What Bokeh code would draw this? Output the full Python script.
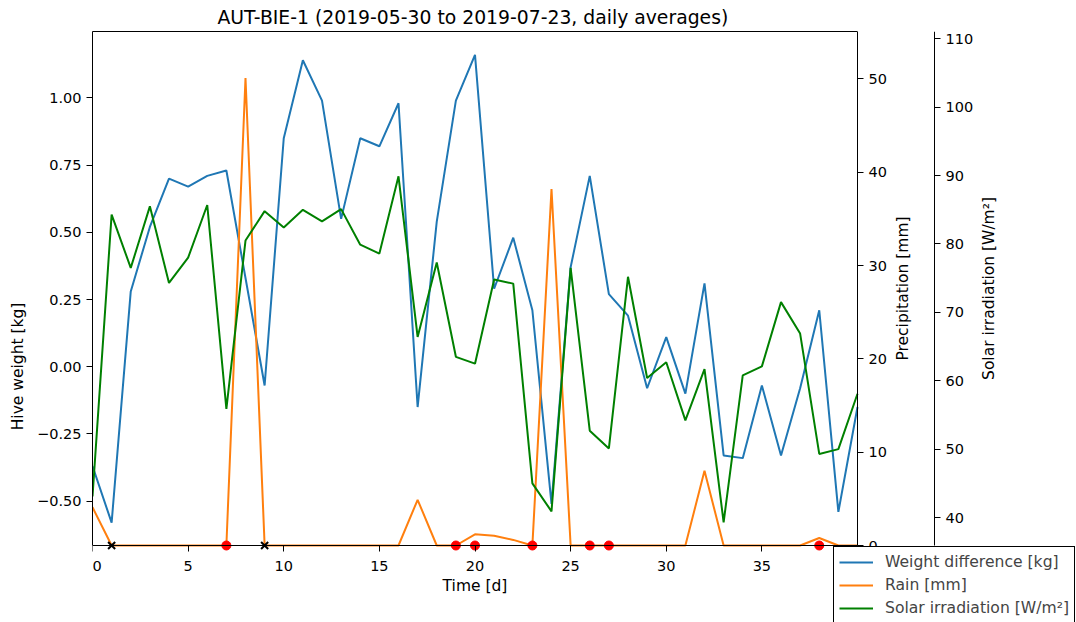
import math
from bokeh.plotting import figure
from bokeh.models import (Range1d, LinearAxis, FixedTicker, CustomJSTickFormatter,
                          Legend, LegendItem, Label)
from bokeh.embed import file_html
from bokeh.resources import INLINE

# ---------------- data ----------------
days = list(range(41))
weight_kg = [-0.37, -0.58, 0.28, 0.52, 0.70, 0.67, 0.71, 0.73, 0.33, -0.07,
             0.85, 1.14, 0.99, 0.55, 0.85, 0.82, 0.98, -0.15, 0.54, 0.99,
             1.16, 0.29, 0.48, 0.21, -0.51, 0.37, 0.71, 0.27, 0.19, -0.08,
             0.11, -0.10, 0.31, -0.33, -0.34, -0.07, -0.33, -0.08, 0.21, -0.54,
             -0.15]
rain_mm = [4.1, 0, 0, 0, 0, 0, 0, 0, 50.1, 0,
           0, 0, 0, 0, 0, 0, 0, 4.9, 0, 0,
           1.2, 1.05, 0.6, 0, 38.2, 0, 0, 0, 0, 0,
           0, 0, 8.0, 0, 0, 0, 0, 0, 0.8, 0,
           0]
solar_wm2 = [43.1, 84.3, 76.5, 85.5, 74.3, 78.0, 85.7, 55.9, 80.5, 84.8,
             82.4, 85.0, 83.3, 85.1, 79.9, 78.6, 89.9, 66.4, 77.3, 63.5,
             62.5, 74.8, 74.2, 45.0, 40.9, 76.5, 52.7, 50.1, 75.2, 60.4,
             62.7, 54.2, 61.7, 39.3, 60.8, 62.1, 71.5, 66.9, 49.3, 50.0,
             58.1]
red_marker_days = [7, 19, 20, 23, 26, 27, 38]
black_marker_days = [1, 9]
marker_level = 0

x_ticks = [0, 5, 10, 15, 20, 25, 30, 35, 40]
weight_ticks = [-0.5, -0.25, 0.0, 0.25, 0.5, 0.75, 1.0]
rain_ticks = [0, 10, 20, 30, 40, 50]
solar_ticks = [40, 50, 60, 70, 80, 90, 100, 110]

title_text = "AUT-BIE-1 (2019-05-30 to 2019-07-23, daily averages)"
labels = ["Weight difference [kg]", "Rain [mm]", "Solar irradiation [W/m\u00b2]"]

# axis limits of the plotted box
X_LIM = (0, 40)
W_LIM = (-0.665, 1.247)
R_LIM = (0, 55.09)
S_LIM = (35.91, 111.07)

FONT = "DejaVu Sans"
LABEL_SIZE = "15.5px"
FS = "\u2007"  # figure space, used as invisible padding
BLUE, ORANGE, GREEN = "#1f77b4", "#ff7f0e", "#008000"

# ---------------- geometry ----------------
# the drawing frame is extended to the right and bottom so that the legend
# (which sits outside the axes box) is not clipped
BOX_L, BOX_T, BOX_W, BOX_H = 92, 31, 765, 514
FRAME_W, FRAME_H = 1076 - BOX_L, 622 - BOX_T
ext_x = FRAME_W / BOX_W
ext_y = (FRAME_H - BOX_H) / BOX_H


def ext_low(lim):
    return (lim[0] - (lim[1] - lim[0]) * ext_y, lim[1])


x_px = BOX_W / (X_LIM[1] - X_LIM[0])        # pixels per day
w_px = BOX_H / (W_LIM[1] - W_LIM[0])        # pixels per kg


def x_at(px):   # screen x -> data x
    return X_LIM[0] + (px - BOX_L) / x_px


def w_at(py):   # screen y -> weight value
    return W_LIM[1] - (py - BOX_T) / w_px


p = figure(frame_width=FRAME_W, frame_height=FRAME_H,
           min_border_left=BOX_L, min_border_top=BOX_T,
           min_border_right=0, min_border_bottom=0,
           x_range=Range1d(X_LIM[0], X_LIM[0] + (X_LIM[1] - X_LIM[0]) * ext_x),
           y_range=Range1d(*ext_low(W_LIM)),
           output_backend="svg", toolbar_location=None, tools="")
p.extra_y_ranges = {"rain": Range1d(*ext_low(R_LIM)), "solar": Range1d(*ext_low(S_LIM))}
p.xgrid.visible = False
p.ygrid.visible = False
p.outline_line_color = None
p.background_fill_color = "white"
p.border_fill_color = "white"

p.title.text = title_text
p.title.align = "left"
p.title.offset = 125
p.title.text_font = FONT
p.title.text_font_size = "18.8px"
p.title.text_font_style = "normal"
p.title.text_color = "black"
p.title.standoff = 8


def style_axis(ax):
    ax.axis_line_color = "black"
    ax.axis_line_width = 1
    ax.major_tick_line_color = "black"
    ax.major_tick_out = 6
    ax.major_tick_in = 0
    ax.minor_tick_out = 0
    ax.minor_tick_in = 0
    ax.major_label_standoff = 5
    ax.major_label_text_font = FONT
    ax.major_label_text_font_size = "14.5px"
    ax.major_label_text_color = "black"
    ax.axis_label_text_font = FONT
    ax.axis_label_text_font_size = LABEL_SIZE
    ax.axis_label_text_font_style = "normal"
    ax.axis_label_text_color = "black"


xa = p.xaxis[0]
xa.ticker = FixedTicker(ticks=x_ticks)
xa.formatter = CustomJSTickFormatter(
    code='return tick == 0 ? "\u2007" + "0" : String(tick);')
style_axis(xa)
xa.fixed_location = W_LIM[0]
xa.bounds = X_LIM
xa.major_label_standoff = 6

ya = p.yaxis[0]
ya.ticker = FixedTicker(ticks=weight_ticks)
ya.formatter = CustomJSTickFormatter(
    code='return (tick < 0 ? "\u2212" : "") + Math.abs(tick).toFixed(2);')
# label is centred on the (extended) frame; trailing padding lifts it to the box centre
ya.axis_label = "Hive weight [kg]" + FS * 8
style_axis(ya)
ya.bounds = W_LIM
ya.axis_label_standoff = 7

# top spine
top = LinearAxis(ticker=FixedTicker(ticks=[]), bounds=X_LIM)
style_axis(top)
top.major_tick_out = 0
top.major_label_standoff = 0
p.add_layout(top, "above")

ax_rain = LinearAxis(y_range_name="rain", ticker=FixedTicker(ticks=rain_ticks),
                     fixed_location=X_LIM[1], bounds=R_LIM)
style_axis(ax_rain)
p.add_layout(ax_rain, "right")

ax_solar = LinearAxis(y_range_name="solar", ticker=FixedTicker(ticks=solar_ticks),
                      fixed_location=x_at(934), bounds=S_LIM)
style_axis(ax_solar)
p.add_layout(ax_solar, "right")

# ---------------- glyphs ----------------
r_w = p.line(days, weight_kg, line_color=BLUE, line_width=2)
r_r = p.line(days, rain_mm, line_color=ORANGE, line_width=2, y_range_name="rain")
r_s = p.line(days, solar_wm2, line_color=GREEN, line_width=2, y_range_name="solar")

p.scatter(red_marker_days, [marker_level] * len(red_marker_days), y_range_name="rain",
          marker="circle", size=9, fill_color="red", line_color="red")
p.scatter(black_marker_days, [marker_level] * len(black_marker_days), y_range_name="rain",
          marker="x", size=10, line_color="black", line_width=2)

# ---------------- axis titles inside the extended frame ----------------
mid_w = w_at(BOX_T + BOX_H / 2)
p.add_layout(Label(x=x_at(902), y=mid_w, text="Precipitation [mm]", angle=math.pi / 2,
                   text_align="center", text_baseline="alphabetic", text_font=FONT,
                   text_font_size=LABEL_SIZE, text_color="black"))
p.add_layout(Label(x=x_at(988), y=mid_w, text="Solar irradiation [W/m\u00b2]",
                   angle=math.pi / 2, text_align="center", text_baseline="alphabetic",
                   text_font=FONT, text_font_size=LABEL_SIZE, text_color="black"))
p.add_layout(Label(x=(X_LIM[0] + X_LIM[1]) / 2, y=w_at(585.5), text="Time [d]",
                   text_align="center", text_baseline="alphabetic", text_font=FONT,
                   text_font_size=LABEL_SIZE, text_color="black"))

# ---------------- legend ----------------
legend = Legend(items=[LegendItem(label=labels[0], renderers=[r_w]),
                       LegendItem(label=labels[1], renderers=[r_r]),
                       LegendItem(label=labels[2], renderers=[r_s])],
                location=(741, -2))
legend.label_text_font = FONT
legend.label_text_font_size = "15.6px"
legend.glyph_width = 34
legend.glyph_height = 20
legend.label_height = 20
legend.label_standoff = 12
legend.spacing = 3
legend.padding = 5
legend.margin = 0
legend.border_line_color = "black"
legend.border_line_width = 1
legend.border_line_alpha = 1
legend.background_fill_color = "white"
legend.background_fill_alpha = 1
p.add_layout(legend)

open("out.html", "w").write(file_html(p, INLINE))
